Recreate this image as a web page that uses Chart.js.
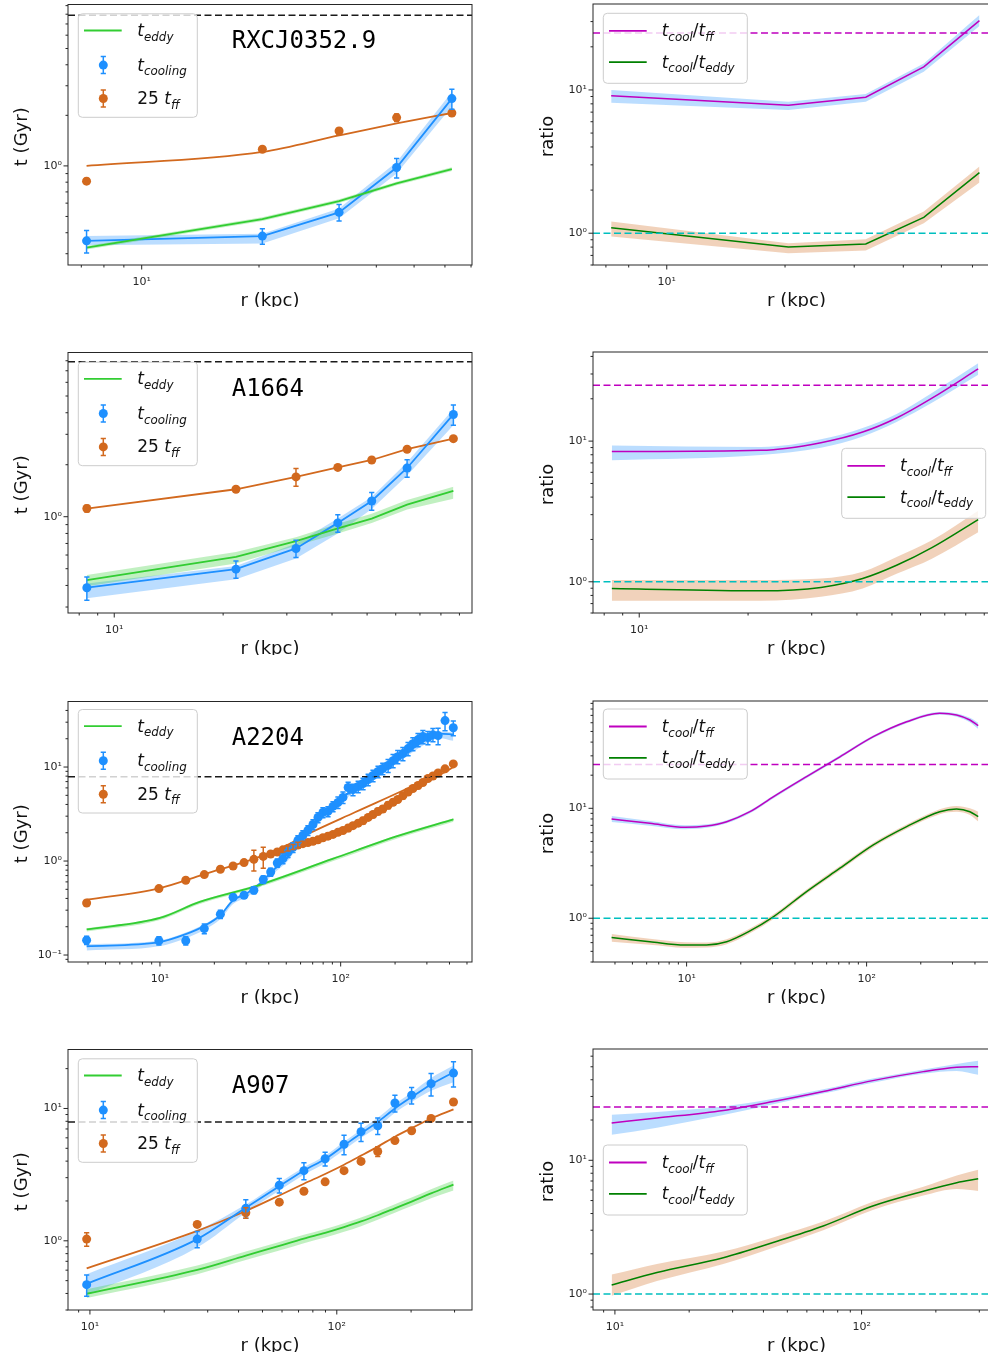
<!DOCTYPE html>
<html>
<head>
<meta charset="utf-8">
<title>cooling, eddy and free-fall times</title>
<script src="https://cdn.jsdelivr.net/npm/chart.js@4.4.1/dist/chart.umd.min.js"></script>
<style>
  html, body { margin: 0; padding: 0; background: #fff; }
  body { position: relative; width: 988px; height: 1363px; overflow: hidden; }
  canvas { position: absolute; }
</style>
</head>
<body>
<canvas id="c1L" width="480" height="307" style="left:0;top:0"></canvas>
<canvas id="c1R" width="520" height="307" style="left:490px;top:0"></canvas>
<canvas id="c2L" width="480" height="307" style="left:0;top:348px"></canvas>
<canvas id="c2R" width="520" height="307" style="left:490px;top:348px"></canvas>
<canvas id="c3L" width="480" height="307" style="left:0;top:697px"></canvas>
<canvas id="c3R" width="520" height="307" style="left:490px;top:697px"></canvas>
<canvas id="c4L" width="480" height="307" style="left:0;top:1045px"></canvas>
<canvas id="c4R" width="520" height="307" style="left:490px;top:1045px"></canvas>
<script>
// ---------- RXCJ0352.9 ----------
var rxcR = [7.22, 20.4, 32.1, 45.1, 62.5];
var rxcCool = [0.358, 0.382, 0.529, 0.978, 2.515];
var rxcCoolErr = [0.055, 0.04, 0.06, 0.13, 0.34];
var rxcCoolLo = [0.337, 0.345, 0.488, 0.90, 2.26];
var rxcCoolHi = [0.382, 0.395, 0.558, 1.056, 2.75];
var rxcTff = [0.811, 1.257, 1.614, 1.94, 2.065];
var rxcTffErr = [0.03, 0.04, 0.06, 0.1, 0.05];
var rxcTffFit = [1.0, 1.211, 1.52, 1.79, 2.065];
var rxcEddy = [0.326, 0.482, 0.617, 0.786, 0.956];
var rxcEddyLo = [0.318, 0.47, 0.602, 0.767, 0.932];
var rxcEddyHi = [0.334, 0.494, 0.632, 0.805, 0.98];
var rxcRatioFf = [9.12, 7.82, 8.89, 14.5, 30.5];
var rxcRatioFfLo = [8.15, 7.25, 8.28, 13.4, 27.9];
var rxcRatioFfHi = [10.0, 8.28, 9.38, 15.3, 33.4];
var rxcRatioEddy = [1.09, 0.80, 0.842, 1.29, 2.65];
var rxcRatioEddyLo = [0.947, 0.725, 0.756, 1.174, 2.26];
var rxcRatioEddyHi = [1.205, 0.852, 0.908, 1.415, 2.92];

// ---------- A1664 ----------
var a1664R = [8.4, 21.7, 31.8, 41.5, 51.5, 64.5, 86.6];
var a1664Cool = [0.388, 0.497, 0.655, 0.921, 1.234, 1.915, 3.91];
var a1664CoolErr = [0.06, 0.057, 0.075, 0.107, 0.145, 0.22, 0.52];
var a1664CoolLo = [0.337, 0.435, 0.573, 0.80, 1.11, 1.73, 3.38];
var a1664CoolHi = [0.41, 0.518, 0.70, 0.976, 1.30, 2.07, 4.2];
var a1664Tff = [1.115, 1.442, 1.70, 1.93, 2.13, 2.46, 2.83];
var a1664TffErr = [0.05, 0.04, 0.2, 0.05, 0.05, 0.06, 0.06];
var a1664Eddy = [0.43, 0.586, 0.722, 0.855, 0.976, 1.176, 1.41];
var a1664EddyLo = [0.396, 0.536, 0.68, 0.80, 0.92, 1.10, 1.27];
var a1664EddyHi = [0.46, 0.625, 0.76, 0.91, 1.04, 1.25, 1.49];
var a1664RatioFf = [8.42, 8.6, 9.75, 11.6, 14.6, 20.2, 32.6];
var a1664RatioFfLo = [7.3, 7.96, 8.98, 10.8, 13.7, 18.7, 29.6];
var a1664RatioFfHi = [9.3, 9.07, 10.3, 12.4, 15.6, 22.0, 35.7];
var a1664RatioEddy = [0.897, 0.863, 0.912, 1.055, 1.31, 1.75, 2.77];
var a1664RatioEddyLo = [0.734, 0.734, 0.784, 0.897, 1.14, 1.46, 2.25];
var a1664RatioEddyHi = [1.03, 1.03, 1.055, 1.18, 1.50, 1.97, 3.2];

// ---------- A2204 ----------
var a2204R = [3.93, 9.87, 13.9, 17.6, 21.6, 25.4, 29.2, 33.1, 37.3, 41.0, 44.6, 47.9,
  51.1, 54.5, 58.0, 61.8, 65.9, 70.3, 74.9, 79.8, 85.1, 90.7, 96.6, 103, 110, 117, 125,
  133, 142, 151, 161, 171, 183, 195, 207, 221, 236, 251, 268, 285, 304, 324, 346, 378, 420];
var a2204Cool = [0.144, 0.142, 0.142, 0.191, 0.272, 0.412, 0.432, 0.489, 0.635, 0.764, 0.953, 1.06,
  1.24, 1.40, 1.66, 1.87, 2.12, 2.45, 2.91, 3.29, 3.37, 3.81, 4.20, 4.75, 6.06, 5.77, 6.21,
  6.68, 7.37, 8.12, 8.96, 9.64, 10.4, 11.7, 12.9, 13.9, 15.7, 17.7, 19.6, 21.1, 20.6, 22.1, 21.6, 31.2, 26.2];
var a2204CoolRelErr = [0.1, 0.1, 0.1, 0.12, 0.1, 0.07, 0.07, 0.08, 0.09, 0.1, 0.1, 0.12,
  0.12, 0.12, 0.12, 0.12, 0.12, 0.12, 0.12, 0.12, 0.12, 0.12, 0.14, 0.14, 0.14, 0.14, 0.14,
  0.14, 0.14, 0.14, 0.14, 0.14, 0.16, 0.16, 0.16, 0.16, 0.16, 0.16, 0.16, 0.16, 0.16, 0.16, 0.2, 0.22, 0.18];
var a2204Tff = [0.358, 0.509, 0.624, 0.717, 0.817, 0.885, 0.962, 1.042, 1.12, 1.187, 1.246, 1.315,
  1.36, 1.415, 1.48, 1.53, 1.57, 1.62, 1.68, 1.77, 1.84, 1.92, 2.02, 2.11, 2.24, 2.38, 2.53,
  2.69, 2.91, 3.13, 3.37, 3.58, 3.92, 4.22, 4.52, 4.96, 5.43, 5.91, 6.36, 6.85, 7.55, 8.03, 8.64, 9.57, 10.8];
var a2204TffRelErr = [0.04, 0.04, 0.04, 0.04, 0.04, 0.04, 0.05, 0.25, 0.25, 0.06, 0.05, 0.05,
  0.06, 0.06, 0.07, 0.06, 0.06, 0.07, 0.06, 0.06, 0.07, 0.06, 0.07, 0.06, 0.08, 0.06, 0.07,
  0.08, 0.06, 0.07, 0.08, 0.07, 0.08, 0.07, 0.06, 0.08, 0.07, 0.06, 0.07, 0.06, 0.06, 0.05, 0.05, 0.04, 0.04];
var a2204CoolFitR = [3.93, 9.87, 13.9, 17.5, 21.6, 25.4, 30.2, 35.7, 42.3, 50.2, 59.6, 76.8, 106, 146, 212, 292, 354, 420];
var a2204CoolFit = [0.124, 0.137, 0.167, 0.203, 0.265, 0.383, 0.451, 0.575, 0.797, 1.06, 1.66, 2.84, 4.98, 7.55, 12.6, 19.1, 22.7, 22.1];
var a2204CoolFitLo = [0.112, 0.124, 0.151, 0.185, 0.242, 0.35, 0.413, 0.527, 0.73, 0.97, 1.52, 2.6, 4.56, 6.9, 11.5, 17.4, 20.3, 19.0];
var a2204CoolFitHi = [0.13, 0.143, 0.174, 0.211, 0.276, 0.398, 0.469, 0.598, 0.829, 1.10, 1.73, 2.95, 5.18, 7.85, 13.1, 19.9, 23.7, 23.3];
var a2204TffFitR = [3.93, 9.87, 17.5, 33.1, 48, 66.3, 120, 232, 313, 378, 420];
var a2204TffFit = [0.388, 0.513, 0.723, 1.055, 1.40, 1.95, 3.3, 5.87, 7.8, 8.8, 10.0];
var a2204EddyR = [3.93, 10, 16.6, 32.8, 91, 212, 421];
var a2204Eddy = [0.187, 0.248, 0.367, 0.53, 1.06, 1.87, 2.77];
var a2204EddyLo = [0.178, 0.236, 0.349, 0.503, 1.0, 1.77, 2.62];
var a2204EddyHi = [0.193, 0.256, 0.378, 0.546, 1.09, 1.93, 2.86];
var a2204RatioR = [3.83, 6.25, 9.8, 12.9, 16.7, 22.5, 30.3, 46.4, 71.1, 109, 167, 255, 316, 375, 417];
var a2204RatioFf = [8.0, 7.31, 6.72, 6.9, 7.55, 9.31, 12.7, 19.4, 29.4, 44.8, 61.2, 73.1, 70.5, 63.5, 56.4];
var a2204RatioFfLo = [7.5, 6.95, 6.45, 6.65, 7.3, 9.0, 12.3, 18.8, 28.5, 43.5, 59.4, 70.9, 68.0, 60.5, 52.5];
var a2204RatioFfHi = [8.5, 7.65, 7.0, 7.15, 7.8, 9.6, 13.1, 20.0, 30.3, 46.1, 63.0, 75.3, 73.0, 66.5, 60.0];
var a2204RatioEddy = [0.667, 0.612, 0.572, 0.572, 0.612, 0.767, 1.03, 1.75, 2.85, 4.64, 6.81, 9.31, 9.86, 9.31, 8.39];
var a2204RatioEddyLo = [0.61, 0.575, 0.54, 0.542, 0.58, 0.73, 0.98, 1.67, 2.72, 4.43, 6.5, 8.85, 9.3, 8.7, 7.6];
var a2204RatioEddyHi = [0.72, 0.65, 0.605, 0.603, 0.645, 0.805, 1.08, 1.83, 2.98, 4.85, 7.12, 9.8, 10.5, 10.0, 9.3];

// ---------- A907 ----------
var a907R = [9.7, 27.2, 42.8, 58.5, 73.6, 89.7, 107, 125.4, 146.5, 172, 201, 241, 297];
var a907Cool = [0.466, 1.03, 1.76, 2.63, 3.39, 4.17, 5.37, 6.68, 7.41, 11.0, 12.6, 15.4, 18.5];
var a907CoolErr = [0.085, 0.145, 0.28, 0.33, 0.5, 0.5, 0.9, 1.05, 1.05, 1.6, 1.8, 3.0, 4.0];
var a907Tff = [1.03, 1.33, 1.63, 1.96, 2.37, 2.79, 3.39, 3.98, 4.73, 5.72, 6.79, 8.41, 11.2];
var a907TffErr = [0.12, 0.06, 0.15, 0.06, 0.08, 0.08, 0.1, 0.12, 0.4, 0.15, 0.18, 0.2, 0.25];
var a907CoolFit = [0.473, 1.03, 1.78, 2.58, 3.4, 4.15, 5.25, 6.5, 7.9, 10.0, 12.2, 15.2, 18.8];
var a907CoolFitLo = [0.39, 0.89, 1.63, 2.4, 3.15, 3.85, 4.85, 6.0, 7.25, 9.3, 11.2, 13.6, 15.8];
var a907CoolFitHi = [0.56, 1.19, 1.88, 2.75, 3.6, 4.4, 5.6, 6.95, 8.5, 10.8, 13.2, 17.0, 21.1];
var a907TffFit = [0.62, 1.19, 1.68, 2.2, 2.7, 3.2, 3.76, 4.4, 5.15, 6.12, 7.1, 8.4, 9.83];
var a907Eddy = [0.398, 0.603, 0.773, 0.917, 1.04, 1.15, 1.27, 1.40, 1.56, 1.76, 1.98, 2.28, 2.66];
var a907EddyLo = [0.37, 0.56, 0.715, 0.845, 0.96, 1.06, 1.17, 1.29, 1.44, 1.63, 1.83, 2.1, 2.4];
var a907EddyHi = [0.43, 0.65, 0.83, 0.98, 1.11, 1.23, 1.36, 1.5, 1.67, 1.89, 2.12, 2.45, 2.85];
var a907RatioR = [9.7, 14.8, 27.5, 43.8, 69.9, 111, 178, 243, 297];
var a907RatioFf = [19.0, 20.7, 23.6, 27.5, 32.7, 39.4, 46.0, 49.6, 50.1];
var a907RatioFfLo = [15.5, 17.5, 21.8, 26.2, 31.5, 38.0, 44.3, 46.5, 43.5];
var a907RatioFfHi = [21.9, 23.0, 25.2, 28.8, 33.9, 40.8, 47.7, 52.5, 55.5];
var a907RatioEddy = [1.17, 1.45, 1.87, 2.43, 3.23, 4.55, 5.87, 6.8, 7.27];
var a907RatioEddyLo = [0.97, 1.25, 1.68, 2.22, 3.0, 4.25, 5.45, 6.1, 5.9];
var a907RatioEddyHi = [1.40, 1.68, 2.08, 2.65, 3.48, 4.9, 6.35, 7.7, 8.5];

// reference levels
var tMaxLine = 7.9;     // black dashed, left panels
var ratioFfLine = 25;   // magenta dashed
var ratioEddyLine = 1;  // cyan dashed

var LIME = '#32cd32', BLUE = '#1e90ff', ORANGE = '#d2691e';
var MAG = '#bf00bf', GRN = '#008000', CYAN = '#00bfbf';
var BLUE_BAND = 'rgba(30,144,255,0.3)', LIME_BAND = 'rgba(50,205,50,0.3)', PEACH_BAND = 'rgba(210,105,30,0.3)';
var FONT = '"DejaVu Sans", sans-serif';
Chart.defaults.font.family = FONT;

function xy(xs, ys) {
  return xs.map(function (x, i) { return {x: x, y: ys[i]}; });
}
function isDecade(v) {
  var l = Math.log10(v);
  return Math.abs(l - Math.round(l)) < 1e-6;
}
var SUP = {'-': '\u207B', '0': '\u2070', '1': '\u00B9', '2': '\u00B2', '3': '\u00B3'};
function decadeLabel(v) {
  var e = String(Math.round(Math.log10(v)));
  return '10' + e.split('').map(function (c) { return SUP[c]; }).join('');
}
function logTicks(scale) {
  var out = [];
  for (var e = Math.floor(Math.log10(scale.min)); e <= Math.ceil(Math.log10(scale.max)); e++) {
    for (var m = 1; m <= 9; m++) {
      var v = m * Math.pow(10, e);
      if (v >= scale.min * 0.9999 && v <= scale.max * 1.0001) out.push({value: v});
    }
  }
  scale.ticks = out;
}
function logAxis(pos, min, max, size, pad) {
  return {
    type: 'logarithmic', position: pos, min: min, max: max,
    grid: {display: false, drawTicks: false},
    border: {display: false},
    afterBuildTicks: logTicks,
    afterFit: function (s) {
      if (pos === 'left') s.width = size; else s.height = size;
      // no extra room for the end labels: keep the plot box where it is
      s.paddingTop = 0; s.paddingBottom = 0; s.paddingLeft = 0; s.paddingRight = 0;
    },
    ticks: {
      autoSkip: false, maxRotation: 0, padding: pad, color: '#262626',
      font: {size: 11, family: FONT},
      callback: function (v) { return isDecade(v) ? decadeLabel(v) : ''; }
    }
  };
}

function line(xs, ys, color, w, smooth) {
  return {data: xy(xs, ys), borderColor: color, borderWidth: w, pointRadius: 0, fill: false,
    tension: 0, cubicInterpolationMode: smooth ? 'monotone' : 'default', order: 5};
}
function band(xs, lo, hi, color, smooth) {
  var mode = smooth ? 'monotone' : 'default';
  return [
    {data: xy(xs, lo), borderWidth: 0, borderColor: 'rgba(0,0,0,0)', pointRadius: 0, fill: false, cubicInterpolationMode: mode, order: 10},
    {data: xy(xs, hi), borderWidth: 0, borderColor: 'rgba(0,0,0,0)', pointRadius: 0, fill: '-1', backgroundColor: color, cubicInterpolationMode: mode, order: 10}
  ];
}
function markers(xs, ys, color, err, rel) {
  return {data: xy(xs, ys), showLine: false, pointRadius: 4.5, pointBackgroundColor: color,
    pointBorderColor: color, pointBorderWidth: 0, borderColor: color,
    errColor: color, errY: rel ? null : err, errRel: rel ? err : null, order: 1};
}

// legend labels: t with italic subscripts
var T_EDDY = [{t: 't', it: 1}, {t: 'eddy', it: 1, sub: 1}];
var T_COOL = [{t: 't', it: 1}, {t: 'cooling', it: 1, sub: 1}];
var T_FF = [{t: '25 '}, {t: 't', it: 1}, {t: 'ff', it: 1, sub: 1}];
var R_FF = [{t: 't', it: 1}, {t: 'cool', it: 1, sub: 1}, {t: '/'}, {t: 't', it: 1}, {t: 'ff', it: 1, sub: 1}];
var R_EDDY = [{t: 't', it: 1}, {t: 'cool', it: 1, sub: 1}, {t: '/'}, {t: 't', it: 1}, {t: 'eddy', it: 1, sub: 1}];

function leftLegend(y) {
  return {x: 10.3, y: y, w: 119, h: 103.5, tx: 59, rows: [
    {kind: 'line', color: LIME, y: 16.7, label: T_EDDY},
    {kind: 'err', color: BLUE, y: 51.3, label: T_COOL},
    {kind: 'err', color: ORANGE, y: 84.7, label: T_FF}]};
}
function rightLegend(x, y) {
  return {x: x, y: y, w: 144, h: 70, tx: 58.4, rows: [
    {kind: 'line', color: MAG, y: 17.5, label: R_FF},
    {kind: 'line', color: GRN, y: 48.8, label: R_EDDY}]};
}

var decorSpecs = {};

function drawRich(ctx, x, y, parts, size) {
  var cx = x;
  parts.forEach(function (p) {
    var fs = p.sub ? size * 0.7 : size;
    ctx.font = (p.it ? 'italic ' : '') + fs + 'px ' + FONT;
    ctx.fillText(p.t, cx, y + (p.sub ? size * 0.27 : 0));
    cx += ctx.measureText(p.t).width;
  });
}

var decor = {
  id: 'decor',
  afterDatasetsDraw: function (chart) {
    var s = decorSpecs[chart.canvas.id];
    var ctx = chart.ctx, a = chart.chartArea, xs = chart.scales.x, ys = chart.scales.y;
    ctx.save();
    ctx.beginPath();
    ctx.rect(a.left, a.top, a.right - a.left, a.bottom - a.top);
    ctx.clip();
    s.hlines.forEach(function (h) {
      var py = ys.getPixelForValue(h.y);
      ctx.strokeStyle = h.color;
      ctx.lineWidth = 1.5;
      ctx.setLineDash([7, 3.5]);
      ctx.beginPath();
      ctx.moveTo(a.left, py);
      ctx.lineTo(a.right, py);
      ctx.stroke();
    });
    ctx.setLineDash([]);
    chart.data.datasets.forEach(function (ds) {
      if (!ds.errY && !ds.errRel) return;
      ctx.strokeStyle = ds.errColor;
      ctx.lineWidth = 1.5;
      ds.data.forEach(function (p, i) {
        var e = ds.errY ? ds.errY[i] : ds.errRel[i] * p.y;
        var px = xs.getPixelForValue(p.x);
        var y1 = ys.getPixelForValue(Math.max(p.y - e, 1e-4)), y2 = ys.getPixelForValue(p.y + e);
        ctx.beginPath();
        ctx.moveTo(px, y1); ctx.lineTo(px, y2);
        ctx.moveTo(px - 2.6, y1); ctx.lineTo(px + 2.6, y1);
        ctx.moveTo(px - 2.6, y2); ctx.lineTo(px + 2.6, y2);
        ctx.stroke();
      });
    });
    ctx.restore();
  },
  afterDraw: function (chart) {
    var s = decorSpecs[chart.canvas.id];
    var ctx = chart.ctx, a = chart.chartArea, xs = chart.scales.x, ys = chart.scales.y;
    ctx.save();
    // axes frame and tick marks
    ctx.strokeStyle = '#262626';
    ctx.lineWidth = 1;
    ctx.strokeRect(a.left, a.top, a.right - a.left, a.bottom - a.top);
    ctx.beginPath();
    xs.ticks.forEach(function (t) {
      var px = xs.getPixelForValue(t.value), L = isDecade(t.value) ? 4.5 : 2.5;
      ctx.moveTo(px, a.bottom); ctx.lineTo(px, a.bottom + L);
    });
    ys.ticks.forEach(function (t) {
      var py = ys.getPixelForValue(t.value), L = isDecade(t.value) ? 4.5 : 2.5;
      ctx.moveTo(a.left, py); ctx.lineTo(a.left - L, py);
    });
    ctx.stroke();
    // axis titles
    ctx.fillStyle = '#111';
    ctx.font = '18px ' + FONT;
    ctx.textAlign = 'center';
    ctx.textBaseline = 'alphabetic';
    ctx.fillText('r (kpc)', (a.left + a.right) / 2, a.bottom + 41);
    ctx.save();
    ctx.translate(s.yTitleX, (a.top + a.bottom) / 2 + 2);
    ctx.rotate(-Math.PI / 2);
    ctx.textBaseline = 'middle';
    ctx.fillText(s.yTitle, 0, 0);
    ctx.restore();
    // cluster name
    if (s.name) {
      ctx.textAlign = 'left';
      ctx.fillStyle = '#000';
      ctx.font = '24px "DejaVu Sans Mono", monospace';
      ctx.fillText(s.name, a.left + 163.7, a.top + 43.5);
    }
    // legend
    var L = s.legend, bx = a.left + L.x, by = a.top + L.y;
    ctx.beginPath();
    ctx.roundRect(bx, by, L.w, L.h, 4);
    ctx.fillStyle = 'rgba(255,255,255,0.8)';
    ctx.fill();
    ctx.strokeStyle = '#cccccc';
    ctx.lineWidth = 1;
    ctx.stroke();
    L.rows.forEach(function (r) {
      var ry = by + r.y;
      ctx.strokeStyle = r.color;
      ctx.fillStyle = r.color;
      if (r.kind === 'line') {
        ctx.lineWidth = 1.8;
        ctx.beginPath();
        ctx.moveTo(bx + 5.7, ry); ctx.lineTo(bx + 43.4, ry);
        ctx.stroke();
      } else {
        var cx = bx + 25;
        ctx.lineWidth = 1.5;
        ctx.beginPath();
        ctx.moveTo(cx, ry - 8.5); ctx.lineTo(cx, ry + 8.5);
        ctx.moveTo(cx - 2.6, ry - 8.5); ctx.lineTo(cx + 2.6, ry - 8.5);
        ctx.moveTo(cx - 2.6, ry + 8.5); ctx.lineTo(cx + 2.6, ry + 8.5);
        ctx.stroke();
        ctx.beginPath();
        ctx.arc(cx, ry, 4.5, 0, Math.PI * 2);
        ctx.fill();
      }
      ctx.fillStyle = '#111';
      ctx.textAlign = 'left';
      ctx.textBaseline = 'alphabetic';
      drawRich(ctx, bx + L.tx, ry + 5.5, r.label, 17);
    });
    ctx.restore();
  }
};

function makeChart(id, spec, datasets, xr, yr, left) {
  decorSpecs[id] = spec;
  return new Chart(document.getElementById(id), {
    type: 'line',
    data: {datasets: datasets},
    options: {
      responsive: false, animation: false, events: [],
      layout: {padding: {left: 0, right: left ? 8 : 10, top: 4, bottom: 0}},
      plugins: {legend: {display: false}, tooltip: {enabled: false}},
      scales: {
        x: logAxis('bottom', xr[0], xr[1], 42, 11),
        y: logAxis('left', yr[0], yr[1], left ? 68 : 103, 6)
      }
    },
    plugins: [decor]
  });
}

function leftSpec(name, legY) {
  return {name: name, yTitle: 't (Gyr)', yTitleX: 22, legend: leftLegend(legY),
    hlines: [{y: tMaxLine, color: '#1a1a1a'}]};
}
function rightSpec(legX, legY) {
  return {yTitle: 'ratio', yTitleX: 58, legend: rightLegend(legX, legY),
    hlines: [{y: ratioFfLine, color: MAG}, {y: ratioEddyLine, color: CYAN}]};
}

// ---- row 1: RXCJ0352.9 ----
makeChart('c1L', leftSpec('RXCJ0352.9', 9.3), [].concat(
  band(rxcR, rxcEddyLo, rxcEddyHi, LIME_BAND, false),
  band(rxcR, rxcCoolLo, rxcCoolHi, BLUE_BAND, false),
  [line(rxcR, rxcEddy, LIME, 1.8, false),
   line(rxcR, rxcCool, BLUE, 1.8, false),
   line(rxcR, rxcTffFit, ORANGE, 1.8, true),
   markers(rxcR, rxcCool, BLUE, rxcCoolErr, false),
   markers(rxcR, rxcTff, ORANGE, rxcTffErr, false)]
), [6.47, 70.4], [0.257, 9.14], true);

makeChart('c1R', rightSpec(10.3, 9.3), [].concat(
  band(rxcR, rxcRatioFfLo, rxcRatioFfHi, BLUE_BAND, false),
  band(rxcR, rxcRatioEddyLo, rxcRatioEddyHi, PEACH_BAND, false),
  [line(rxcR, rxcRatioFf, MAG, 1.5, false),
   line(rxcR, rxcRatioEddy, GRN, 1.5, false)]
), [6.49, 70.5], [0.601, 39.8], false);

// ---- row 2: A1664 ----
makeChart('c2L', leftSpec('A1664', 9.7), [].concat(
  band(a1664R, a1664EddyLo, a1664EddyHi, LIME_BAND, false),
  band(a1664R, a1664CoolLo, a1664CoolHi, BLUE_BAND, false),
  [line(a1664R, a1664Eddy, LIME, 1.8, false),
   line(a1664R, a1664Cool, BLUE, 1.8, false),
   line(a1664R, a1664Tff, ORANGE, 1.8, false),
   markers(a1664R, a1664Cool, BLUE, a1664CoolErr, false),
   markers(a1664R, a1664Tff, ORANGE, a1664TffErr, false)]
), [7.45, 97.5], [0.277, 8.93], true);

makeChart('c2R', rightSpec(248.7, 96.3), [].concat(
  band(a1664R, a1664RatioFfLo, a1664RatioFfHi, BLUE_BAND, true),
  band(a1664R, a1664RatioEddyLo, a1664RatioEddyHi, PEACH_BAND, true),
  [line(a1664R, a1664RatioFf, MAG, 1.5, true),
   line(a1664R, a1664RatioEddy, GRN, 1.5, true)]
), [7.45, 99.5], [0.617, 43], false);

// ---- row 3: A2204 ----
makeChart('c3L', leftSpec('A2204', 8), [].concat(
  band(a2204EddyR, a2204EddyLo, a2204EddyHi, LIME_BAND, true),
  band(a2204CoolFitR, a2204CoolFitLo, a2204CoolFitHi, BLUE_BAND, true),
  [line(a2204EddyR, a2204Eddy, LIME, 1.8, true),
   line(a2204CoolFitR, a2204CoolFit, BLUE, 1.8, true),
   line(a2204TffFitR, a2204TffFit, ORANGE, 1.8, true),
   markers(a2204R, a2204Cool, BLUE, a2204CoolRelErr, true),
   markers(a2204R, a2204Tff, ORANGE, a2204TffRelErr, true)]
), [3.1, 533], [0.0843, 49.8], true);

makeChart('c3R', rightSpec(10.3, 8), [].concat(
  band(a2204RatioR, a2204RatioFfLo, a2204RatioFfHi, BLUE_BAND, true),
  band(a2204RatioR, a2204RatioEddyLo, a2204RatioEddyHi, PEACH_BAND, true),
  [line(a2204RatioR, a2204RatioFf, MAG, 1.5, true),
   line(a2204RatioR, a2204RatioEddy, GRN, 1.5, true)]
), [3.02, 551], [0.40, 94.6], false);

// ---- row 4: A907 ----
makeChart('c4L', leftSpec('A907', 9.3), [].concat(
  band(a907R, a907EddyLo, a907EddyHi, LIME_BAND, true),
  band(a907R, a907CoolFitLo, a907CoolFitHi, BLUE_BAND, true),
  [line(a907R, a907Eddy, LIME, 1.8, true),
   line(a907R, a907CoolFit, BLUE, 1.8, true),
   line(a907R, a907TffFit, ORANGE, 1.8, true),
   markers(a907R, a907Cool, BLUE, a907CoolErr, false),
   markers(a907R, a907Tff, ORANGE, a907TffErr, false)]
), [8.15, 353], [0.302, 27.9], true);

makeChart('c4R', rightSpec(10.3, 96), [].concat(
  band(a907RatioR, a907RatioFfLo, a907RatioFfHi, BLUE_BAND, true),
  band(a907RatioR, a907RatioEddyLo, a907RatioEddyHi, PEACH_BAND, true),
  [line(a907RatioR, a907RatioFf, MAG, 1.5, true),
   line(a907RatioR, a907RatioEddy, GRN, 1.5, true)]
), [8.15, 364], [0.76, 67.9], false);
</script>
</body>
</html>
